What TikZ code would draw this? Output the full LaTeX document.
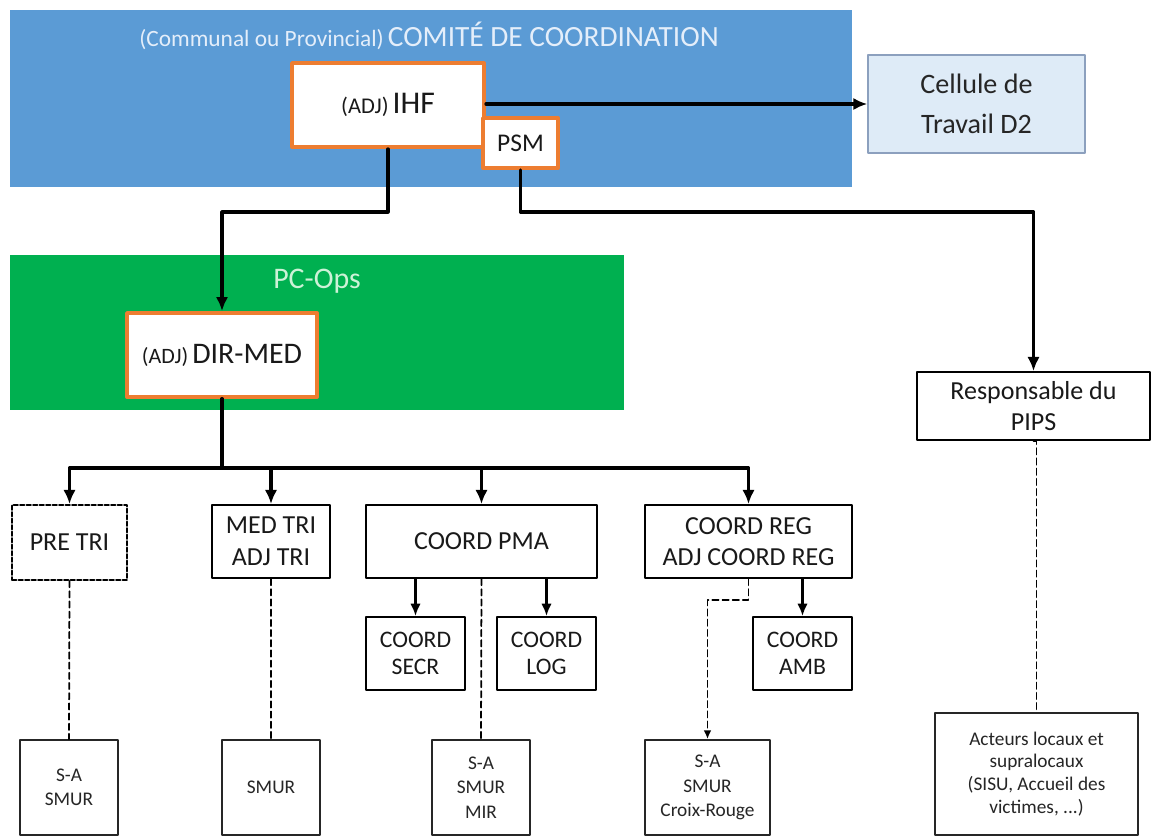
\documentclass[tikz,border=0pt]{standalone}
\usepackage{fontspec}
\setmainfont{Carlito}
\usetikzlibrary{arrows.meta}

\definecolor{comiteblue}{RGB}{91,155,213}
\definecolor{opsgreen}{RGB}{0,176,80}
\definecolor{leadorange}{RGB}{237,125,49}
\definecolor{cellfill}{RGB}{222,235,247}
\definecolor{celldraw}{RGB}{140,160,190}
\definecolor{paleblue}{RGB}{228,238,250}
\definecolor{palegreen}{RGB}{205,242,215}

\begin{document}
\begin{tikzpicture}[x=0.02cm, y=-0.02cm, line cap=round, line join=round,
  sz/.style 2 args={minimum width={#1*0.02cm}, minimum height={#2*0.02cm}},
  lead/.style={draw=leadorange, line width=2.2pt, fill=white, inner sep=0pt, text=black!90},
  unit/.style={draw=black, line width=1.1pt, fill=white, inner sep=0pt, align=center,
    text=black!90, font=\fontsize{14.8}{18}\selectfont},
  subunit/.style={unit, font=\fontsize{13.5}{15.3}\selectfont},
  team/.style={draw=black!85, line width=0.9pt, fill=white, inner sep=0pt, align=center,
    text=black!85, font=\fontsize{11}{13.9}\selectfont},
  arr/.style={line width=1.8pt, -{Latex[length=8pt,width=7pt]}},
  subarr/.style={line width=1.4pt, -{Latex[length=7pt,width=6pt]}},
  link/.style={line width=1pt, dash pattern=on 3.6pt off 2.2pt}]

  \useasboundingbox (0,0) rectangle (1152,836);

  % comite de coordination
  \node[fill=comiteblue, inner sep=0pt, sz={842}{177}] (comite) at (431,98.5) {};
  \node[text=paleblue] (comitetitle) at (429,36)
    {{\fontsize{13.3}{16}\selectfont(Communal ou Provincial)} {\fontsize{16.7}{20}\selectfont COMIT\'E DE COORDINATION}};
  \node[lead, sz={192}{84}] (ihf) at (388,105)
    {{\fontsize{12.8}{15}\selectfont(ADJ)} {\fontsize{18}{21}\selectfont IHF}};
  \node[lead, sz={75}{50}, font=\fontsize{14.5}{17}\selectfont] (psm) at (520.5,143) {PSM};
  \node[fill=cellfill, draw=celldraw, line width=0.8pt, inner sep=0pt, sz={217}{98},
    align=center, text=black!85, font=\fontsize{16}{22.7}\selectfont] (cellule) at (976.5,104)
    {Cellule de\\Travail D2};

  % PC-Ops
  \node[fill=opsgreen, inner sep=0pt, sz={614}{155}] (pcops) at (317,332.5) {};
  \node[text=palegreen, font=\fontsize{17}{20}\selectfont] (pcopstitle) at (317,281) {PC-Ops};
  \node[lead, sz={190}{84}] (dirmed) at (222,355)
    {{\fontsize{12.5}{15}\selectfont(ADJ)} {\fontsize{17}{20}\selectfont DIR-MED}};

  % fonctions
  \node[unit, sz={115}{75}, line width=1.1pt, dash pattern=on 2.5pt off 1.2pt] (pretri) at (69.5,542.5) {PRE TRI};
  \node[unit, sz={118}{73}] (medtri) at (271,541.5) {MED TRI\\ADJ TRI};
  \node[unit, sz={231}{73}] (coordpma) at (481.5,541.5) {COORD PMA};
  \node[unit, sz={207}{73}] (coordreg) at (748.5,541.5) {COORD REG\\ADJ COORD REG};
  \node[subunit, sz={99}{73}] (secr) at (415.5,653.5) {COORD\\SECR};
  \node[subunit, sz={99}{73}] (log) at (546.5,653.5) {COORD\\LOG};
  \node[subunit, sz={99}{73}] (amb) at (802.5,653.5) {COORD\\AMB};
  \node[unit, sz={233}{68}] (pips) at (1033.5,406) {Responsable du\\PIPS};

  % equipes
  \node[team, sz={98}{95}] (sasmur) at (69,787.5) {S-A\\SMUR};
  \node[team, sz={98}{95}] (smur) at (271,787.5) {SMUR};
  \node[team, sz={98}{95}] (mir) at (481,787.5) {S-A\\SMUR\\MIR};
  \node[team, sz={125}{95}, line width=1.1pt] (croix) at (707.5,787.5) {S-A\\SMUR\\Croix-Rouge};
  \node[team, sz={203}{122}, font=\fontsize{11}{13}\selectfont] (acteurs) at (1036.5,774)
    {Acteurs locaux et\\supralocaux\\(SISU, Accueil des\\victimes, ...)};

  \coordinate (top) at (0,212);
  \coordinate (bus) at (0,468);
  \coordinate (split) at (0,600);

  \draw[arr] (ihf.east |- cellule.west) -- (cellule.west);
  \draw[arr] (ihf.south) -- (ihf.south |- top) -| (dirmed.north);
  \draw[arr] (psm.south) -- (psm.south |- top) -| (pips.north);

  \foreach \n in {pretri,medtri,coordpma,coordreg}{
    \draw[arr] (dirmed.south) |- (\n.north |- bus) -- (\n.north);
  }

  \draw[subarr] (secr.north |- coordpma.south) -- (secr.north);
  \draw[subarr] (log.north |- coordpma.south) -- (log.north);
  \draw[subarr] (amb.north |- coordreg.south) -- (amb.north);

  \draw[link] (pretri.south) -- (sasmur.north);
  \draw[link] (medtri.south) -- (smur.north);
  \draw[link] (coordpma.south) -- (mir.north);
  \draw[link] (pips.south) -- (acteurs.north |- pips.south) -- (acteurs.north);
  \draw[link, -{Latex[length=5pt,width=4.5pt]}] (coordreg.south) -- (coordreg.south |- split) -| (croix.north);

\end{tikzpicture}
\end{document}
